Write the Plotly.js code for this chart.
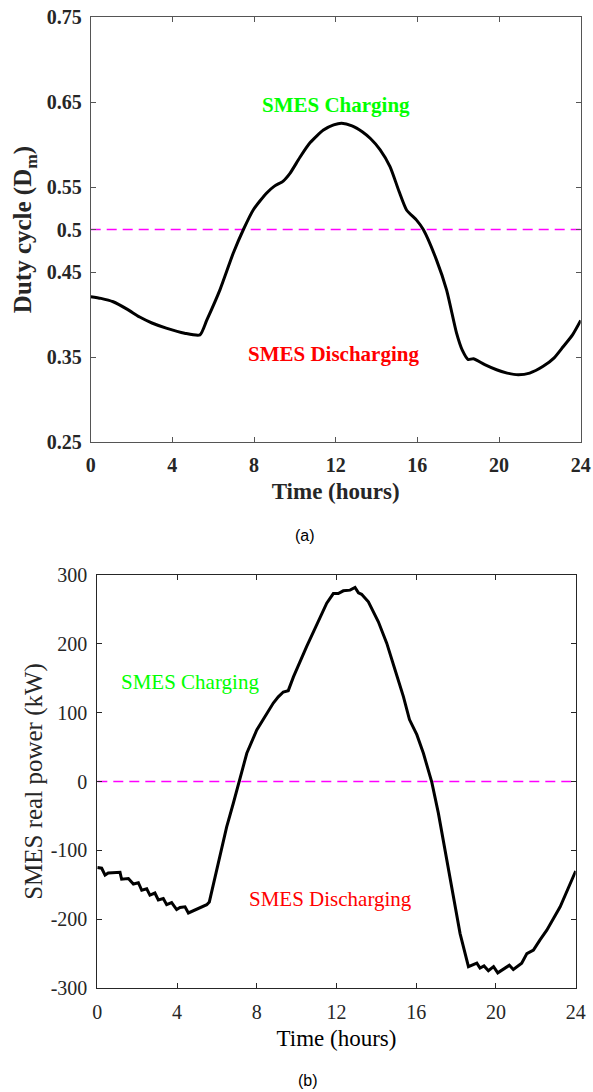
<!DOCTYPE html>
<html>
<head>
<meta charset="utf-8">
<script src="https://cdn.plot.ly/plotly-3.0.1.min.js"></script>
<style>html,body{margin:0;padding:0;background:#fff;}#chart{width:593px;height:1092px;}</style>
</head>
<body>
<div id="chart"></div>
<script>
// (a) Duty cycle vs time
const dutyHours = [0,0.5,1.1,1.8,2.4,3.0,3.7,4.6,5.35,5.68,6.33,6.98,7.48,7.96,8.62,9.0,9.43,9.76,10.25,10.74,11.4,11.9,12.29,12.8,13.3,13.7,14.17,14.66,15.1,15.47,15.96,16.29,16.94,17.43,17.92,18.2,18.49,18.74,19.3,19.88,20.4,20.94,21.5,22.16,22.7,23.14,23.6,24];
const dutyValues = [0.421,0.419,0.415,0.406,0.397,0.390,0.384,0.378,0.376,0.393,0.429,0.472,0.500,0.523,0.543,0.551,0.557,0.566,0.585,0.602,0.617,0.623,0.625,0.622,0.615,0.607,0.594,0.574,0.545,0.523,0.511,0.500,0.464,0.429,0.378,0.358,0.347,0.348,0.341,0.335,0.331,0.329,0.331,0.339,0.349,0.362,0.376,0.393];
const dutyRef = 0.5;
const dutyTickVals = [0.25,0.35,0.45,0.5,0.55,0.65,0.75];
const dutyTickText = ['0.25','0.35','0.45','0.5','0.55','0.65','0.75'];

// (b) SMES real power vs time
const powerHours = [0,0.22,0.39,0.55,1.14,1.22,1.56,1.81,2.06,2.23,2.48,2.64,2.89,3.06,3.31,3.48,3.73,3.98,4.15,4.4,4.57,4.82,5.49,5.62,5.99,6.49,6.82,7.11,7.5,8.0,8.5,8.83,9.08,9.33,9.58,9.84,10.5,11.17,11.51,11.84,12.09,12.34,12.68,12.93,13.1,13.26,13.6,14.1,14.52,14.94,15.36,15.66,16.03,16.36,16.78,17.11,17.45,17.86,18.2,18.62,19.04,19.2,19.4,19.62,19.88,20.09,20.37,20.67,20.87,21.29,21.55,21.88,22.21,22.55,23.22,24];
const powerValues = [-125,-126,-136,-133,-132,-142,-141,-149,-147,-158,-156,-165,-162,-172,-170,-179,-176,-186,-183,-182,-191,-188,-179,-175,-129,-66,-32,-1,41,75,99,114,123,130,132,152,196,239,259,273,273,277,278,282,274,272,261,232,201,162,123,90,68,41,-1,-46,-100,-167,-221,-269,-264,-271,-268,-275,-269,-278,-273,-267,-273,-264,-250,-245,-230,-216,-182,-130];
const powerRef = 0;
const powerTickVals = [-300,-200,-100,0,100,200,300];
const powerTickText = ['-300','-200','-100','0','100','200','300'];

const hourTicks = [0,4,8,12,16,20,24];
const hourRange = [0,24];

const serif = 'Liberation Serif, Times New Roman, serif';
const W = 593, H = 1092;

const traces = [
  {x: hourRange, y: [dutyRef, dutyRef], xaxis:'x', yaxis:'y', mode:'lines',
   line:{color:'#ff00ff', width:1.5, dash:'10px,6px'}, hoverinfo:'skip'},
  {x: dutyHours, y: dutyValues, xaxis:'x', yaxis:'y', mode:'lines',
   line:{color:'#000000', width:3, shape:'spline', smoothing:0.6}},
  {x: hourRange, y: [powerRef, powerRef], xaxis:'x2', yaxis:'y2', mode:'lines',
   line:{color:'#ff00ff', width:1.5, dash:'10px,6px'}, hoverinfo:'skip'},
  {x: powerHours, y: powerValues, xaxis:'x2', yaxis:'y2', mode:'lines',
   line:{color:'#000000', width:3}}
];

function axisBase(lineColor){
  return {showline:true, linecolor:lineColor, linewidth:1, mirror:'ticks',
          ticks:'inside', ticklen:5, tickwidth:1, tickcolor:lineColor,
          showgrid:false, zeroline:false, automargin:false};
}

const layout = {
  width: W, height: H,
  margin:{l:0, r:0, t:0, b:0},
  paper_bgcolor:'#ffffff', plot_bgcolor:'#ffffff',
  showlegend:false,
  xaxis: Object.assign(axisBase('#555555'), {
    domain:[90.7/W, 580.7/W], range:hourRange, tickmode:'array', tickvals:hourTicks,
    ticktext:hourTicks.map(String), anchor:'y', ticklabelstandoff:5,
    tickfont:{family:serif, size:20, weight:'bold', color:'#262626'},
    title:{text:'Time (hours)', standoff:7, font:{family:serif, size:23, weight:'bold', color:'#262626'}}
  }),
  yaxis: Object.assign(axisBase('#555555'), {
    domain:[1-442/H, 1-17/H], range:[0.25,0.75], tickmode:'array', tickvals:dutyTickVals,
    ticktext:dutyTickText, anchor:'x', ticklabelstandoff:4,
    tickfont:{family:serif, size:20, weight:'bold', color:'#262626'},
    title:{text:'Duty cycle (D<sub>m</sub>)', standoff:7, font:{family:serif, size:25, weight:'bold', color:'#262626'}}
  }),
  xaxis2: Object.assign(axisBase('#262626'), {
    domain:[97.3/W, 575.7/W], range:hourRange, tickmode:'array', tickvals:hourTicks,
    ticktext:hourTicks.map(String), anchor:'y2', ticklabelstandoff:6,
    tickfont:{family:serif, size:20, color:'#262626'},
    title:{text:'Time (hours)', standoff:7, font:{family:serif, size:23, color:'#000000'}}
  }),
  yaxis2: Object.assign(axisBase('#262626'), {
    domain:[1-988/H, 1-575/H], range:[-300,300], tickmode:'array', tickvals:powerTickVals,
    ticktext:powerTickText, anchor:'x2', ticklabelstandoff:5,
    tickfont:{family:serif, size:20, color:'#262626'},
    title:{text:'SMES real power (kW)', standoff:0, font:{family:serif, size:25, color:'#262626'}}
  }),
  annotations:[
    {xref:'x', yref:'y', x:12, y:0.63, yanchor:'bottom', text:'SMES Charging', showarrow:false,
     font:{family:serif, size:21, weight:'bold', color:'#00ff00'}},
    {xref:'x', yref:'y', x:11.9, y:0.354, text:'SMES Discharging', showarrow:false,
     font:{family:serif, size:21, weight:'bold', color:'#ff0000'}},
    {xref:'x2', yref:'y2', x:4.64, y:145, text:'SMES Charging', showarrow:false,
     font:{family:serif, size:21, color:'#00ff00'}},
    {xref:'x2', yref:'y2', x:11.7, y:-170, text:'SMES Discharging', showarrow:false,
     font:{family:serif, size:21, color:'#ff0000'}},
    {xref:'paper', yref:'paper', x:305/W, y:1-535/H, yanchor:'middle', text:'(a)', showarrow:false,
     font:{family:'Liberation Sans, Arial, sans-serif', size:16, color:'#000000'}},
    {xref:'paper', yref:'paper', x:307.5/W, y:1-1080/H, yanchor:'middle', text:'(b)', showarrow:false,
     font:{family:'Liberation Sans, Arial, sans-serif', size:16, color:'#000000'}}
  ]
};

Plotly.newPlot('chart', traces, layout, {displayModeBar:false, staticPlot:true});
</script>
</body>
</html>
